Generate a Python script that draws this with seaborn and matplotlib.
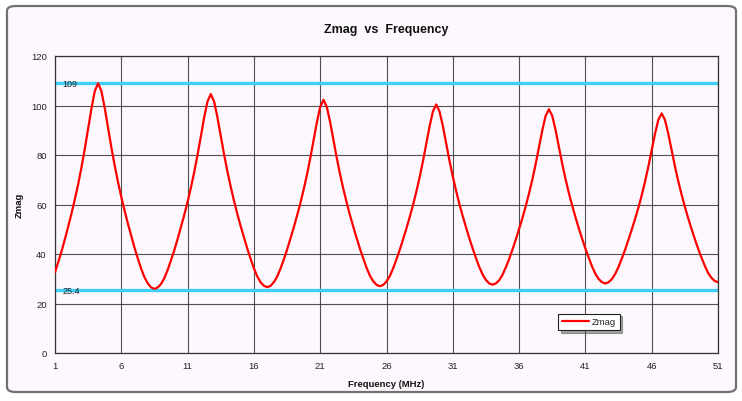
import numpy as np
import matplotlib
matplotlib.use("Agg")
import matplotlib.pyplot as plt
from matplotlib.patches import FancyBboxPatch
import seaborn as sns

# ---- data ----
freq_mhz = np.round(np.arange(1.0, 51.0 + 0.001, 0.25), 2)

zmag = [
    # 1.00 - 4.25
    32.6, 36.8, 41.2, 46.1, 51.2, 56.5, 62.2, 68.3, 75.1, 82.6, 90.6, 98.8, 105.8, 109.0,
    # 4.50 - 8.50
    105.8, 99.0, 91.0, 83.1, 75.8, 69.1, 63.0, 57.5, 52.2, 47.3, 42.5, 38.1, 34.0, 30.6, 28.1, 26.5, 25.9,
    # 8.75 - 12.75
    26.5, 27.9, 30.3, 33.6, 37.5, 41.6, 46.1, 50.9, 55.8, 61.1, 66.8, 73.1, 80.1, 87.5, 95.2, 101.6, 104.6,
    # 13.00 - 17.00
    101.6, 95.2, 87.7, 80.3, 73.4, 67.2, 61.5, 56.2, 51.3, 46.7, 42.2, 38.1, 34.2, 31.0, 28.6, 27.2, 26.6,
    # 17.25 - 21.25
    27.1, 28.6, 30.8, 34.0, 37.7, 41.7, 46.1, 50.6, 55.4, 60.4, 66.0, 72.0, 78.7, 85.9, 93.2, 99.4, 102.3,
    # 21.50 - 25.50
    99.4, 93.3, 86.0, 78.8, 72.2, 66.2, 60.7, 55.6, 50.9, 46.4, 42.1, 38.1, 34.4, 31.2, 29.0, 27.5, 27.0,
    # 25.75 - 29.75
    27.5, 28.9, 31.1, 34.2, 37.8, 41.7, 45.9, 50.3, 54.9, 59.8, 65.2, 71.0, 77.5, 84.5, 91.6, 97.6, 100.4,
    # 30.00 - 34.00
    97.6, 91.7, 84.6, 77.7, 71.3, 65.5, 60.1, 55.3, 50.7, 46.3, 42.2, 38.3, 34.7, 31.7, 29.5, 28.1, 27.6,
    # 34.25 - 38.25
    28.1, 29.4, 31.6, 34.6, 38.0, 41.8, 45.8, 50.1, 54.5, 59.3, 64.5, 70.1, 76.4, 83.1, 90.0, 95.8, 98.5,
    # 38.50 - 42.50
    95.8, 90.1, 83.2, 76.5, 70.3, 64.7, 59.6, 54.9, 50.4, 46.2, 42.2, 38.5, 35.0, 32.0, 29.9, 28.6, 28.1,
    # 42.75 - 46.75
    28.6, 29.9, 32.0, 34.8, 38.2, 41.8, 45.8, 49.9, 54.2, 58.8, 63.8, 69.3, 75.4, 81.9, 88.6, 94.2, 96.8,
    # 47.00 - 51.00
    94.2, 88.6, 82.0, 75.5, 69.5, 64.1, 59.1, 54.5, 50.2, 46.1, 42.2, 38.6, 35.3, 32.4, 30.4, 29.1, 28.6,
]

ref_levels = [109, 25.4]
ref_labels = ["109", "25.4"]
x_ticks = [1, 6, 11, 16, 21, 26, 31, 36, 41, 46, 51]
y_ticks = [0, 20, 40, 60, 80, 100, 120]

title = "Zmag  vs  Frequency"
x_label = "Frequency (MHz)"
y_label = "Zmag"
series_name = "Zmag"

# ---- styling ----
sns.set_style("white")
plt.rcParams["font.family"] = ["Liberation Sans", "DejaVu Sans"]

bg = "#FDF8FD"
fig = plt.figure(figsize=(7.42, 4.02), dpi=100)
fig.patch.set_facecolor("white")

# outer chart frame (drawn beneath the axes)
frame = FancyBboxPatch((7 / 742, 9 / 402), 729 / 742, 386 / 402,
                       boxstyle="round,pad=0,rounding_size=0.012",
                       transform=fig.transFigure, facecolor=bg,
                       edgecolor="#707070", linewidth=1.6, zorder=-10)
fig.add_artist(frame)

ax = fig.add_axes([55 / 742, (402 - 354) / 402, (718 - 55) / 742, (354 - 57) / 402])
ax.set_zorder(1)
ax.set_facecolor(bg)

for lvl, lab in zip(ref_levels, ref_labels):
    ax.axhline(lvl, color="#3FD0FA", linewidth=2.4, zorder=2)
    ax.text(0.011, lvl, lab, transform=ax.get_yaxis_transform(),
            ha="left", va="center", fontsize=6.5, color="#222222", zorder=4)

sns.lineplot(x=freq_mhz, y=zmag, ax=ax, color="#FF0000", linewidth=1.6,
             label=series_name, zorder=3, solid_joinstyle="round")

ax.set_xlim(1, 51)
ax.set_ylim(0, 120)
ax.set_xticks(x_ticks)
ax.set_yticks(y_ticks)
ax.set_xticklabels([str(t) for t in x_ticks])
ax.set_yticklabels([str(t) for t in y_ticks])
ax.grid(True, color="#333333", linewidth=0.8, alpha=0.85)
ax.set_axisbelow(True)
for s in ax.spines.values():
    s.set_color("#333333")
    s.set_linewidth(0.9)
ax.tick_params(axis="both", which="both", direction="out", length=3, width=0.8,
               color="#333333", labelsize=6.8, labelcolor="#222222", pad=3)

ax.set_xlabel(x_label, fontsize=6.8, fontweight="bold", labelpad=6, color="#111111")
ax.set_ylabel(y_label, fontsize=6.8, fontweight="bold", labelpad=5, color="#111111")
fig.text((55 + 718) / 2 / 742, 1 - 30 / 402, title, ha="center", va="center",
         fontsize=9, fontweight="bold", color="#111111")

leg = ax.legend(loc="center", bbox_to_anchor=(0.805, 0.105), fontsize=6.8,
                frameon=True, fancybox=False, shadow=True, handlelength=2.9,
                borderpad=0.4, handletextpad=0.3, borderaxespad=0)
leg.get_frame().set_edgecolor("#222222")
leg.get_frame().set_facecolor("white")
leg.get_frame().set_linewidth(0.8)

fig.savefig("out.png", dpi=100, facecolor="white")
